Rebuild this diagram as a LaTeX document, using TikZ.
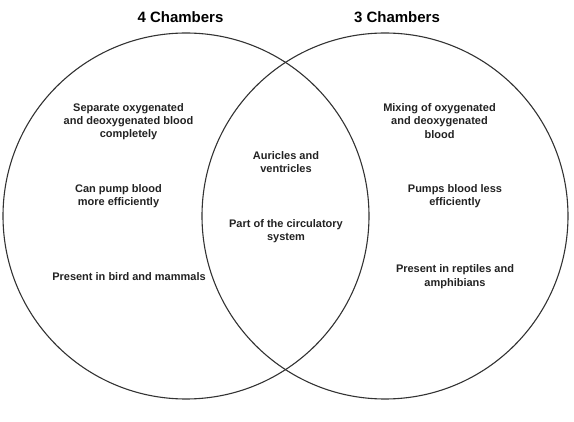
\documentclass[tikz,border=0pt]{standalone}
\usepackage{fontspec}
\setmainfont{Liberation Sans}
\definecolor{inkc}{HTML}{222222}
\definecolor{linec}{HTML}{333333}
\tikzset{
  ring/.style={draw=linec, line width=1.1pt},
  lbl/.style={align=center, text=inkc, font=\fontsize{11}{13.3}\selectfont\bfseries, inner sep=0pt},
  ttl/.style={text=black, font=\fontsize{15}{18}\selectfont\bfseries, inner sep=0pt}
}
\begin{document}
\begin{tikzpicture}[x=1pt,y=-1pt]
\useasboundingbox (0,0) rectangle (574,422);
\node[ring, circle, minimum size=366pt, inner sep=0pt] (L) at (186,216) {};
\node[ring, circle, minimum size=366pt, inner sep=0pt] (R) at (385,216) {};
\node[ttl] (t4) at (180.5,17) {4 Chambers};
\node[ttl] (t3) at (397,17) {3 Chambers};
\node[lbl] (l1) at (128.5,121.5) {Separate oxygenated\\and deoxygenated blood\\completely};
\node[lbl] (l2) at (118.5,196) {Can pump blood\\more efficiently};
\node[lbl] (l3) at (129,277) {Present in bird and mammals};
\node[lbl] (m1) at (286,162) {Auricles and\\ventricles};
\node[lbl] (m2) at (286,231) {Part of the circulatory\\system};
\node[lbl] (r1) at (439.5,121) {Mixing of oxygenated\\and deoxygenated\\blood};
\node[lbl] (r2) at (455,196) {Pumps blood less\\efficiently};
\node[lbl] (r3) at (455,276.7) {Present in reptiles and\\amphibians};
\end{tikzpicture}
\end{document}
